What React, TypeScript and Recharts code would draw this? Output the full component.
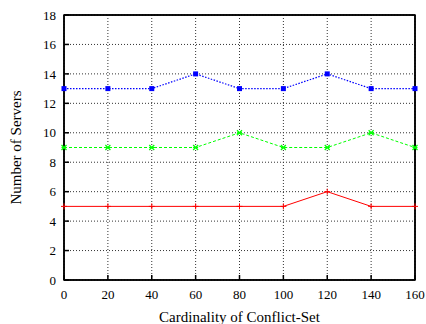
import React from 'react';
import {
  LineChart,
  Line,
  XAxis,
  YAxis,
  CartesianGrid,
  ReferenceArea,
} from 'recharts';

const cardinality = [0, 20, 40, 60, 80, 100, 120, 140, 160];
const blueSeries = [13, 13, 13, 14, 13, 13, 14, 13, 13];
const greenSeries = [9, 9, 9, 9, 10, 9, 9, 10, 9];
const redSeries = [5, 5, 5, 5, 5, 5, 6, 5, 5];
const xTicks = [0, 20, 40, 60, 80, 100, 120, 140, 160];
const yTicks = [0, 2, 4, 6, 8, 10, 12, 14, 16, 18];

const data = cardinality.map((c, i) => ({
  c,
  blue: blueSeries[i],
  green: greenSeries[i],
  red: redSeries[i],
}));

const font = 'Liberation Serif, DejaVu Serif, serif';

const SquareDot = (props: any) => {
  const { cx, cy, index } = props;
  return <rect key={`sq-${index}`} x={cx - 2.5} y={cy - 2.5} width={5} height={5} fill="#0000ff" />;
};

const CrossDot = (props: any) => {
  const { cx, cy, index } = props;
  const s = 2.5;
  return (
    <g key={`x-${index}`} stroke="#00ff00" strokeWidth={1.2}>
      <line x1={cx - s} y1={cy - s} x2={cx + s} y2={cy + s} />
      <line x1={cx - s} y1={cy + s} x2={cx + s} y2={cy - s} />
      <line x1={cx - s} y1={cy} x2={cx + s} y2={cy} />
    </g>
  );
};

const PlusDot = (props: any) => {
  const { cx, cy, index } = props;
  const s = 3;
  return (
    <g key={`p-${index}`} stroke="#ff0000" strokeWidth={1}>
      <line x1={cx - s} y1={cy} x2={cx + s} y2={cy} />
      <line x1={cx} y1={cy - s} x2={cx} y2={cy + s} />
    </g>
  );
};

export default function App() {
  return (
    <div style={{ position: 'absolute', left: 0, top: 0, background: '#fff' }}>
      <LineChart
        width={426}
        height={324}
        data={data}
        margin={{ top: 14, right: 10, bottom: 2, left: 0 }}
      >
        <CartesianGrid
          xAxisId="b"
          yAxisId="l"
          stroke="#333"
          strokeDasharray="1 2"
          horizontalValues={yTicks}
          verticalValues={xTicks}
        />
        <XAxis
          xAxisId="b"
          dataKey="c"
          type="number"
          domain={[0, 160]}
          ticks={xTicks}
          height={42}
          tickSize={-5}
          tickMargin={15}
          stroke="#000"
          strokeWidth={1.5}
          tick={{ fill: '#000', fontSize: 13, fontFamily: font }}
          label={{ value: 'Cardinality of Conflict-Set', position: 'insideBottom', offset: 0, fill: '#000', fontSize: 15, fontFamily: font }}
        />
        <XAxis
          xAxisId="t"
          orientation="top"
          dataKey="c"
          type="number"
          domain={[0, 160]}
          ticks={xTicks}
          height={1}
          tickSize={-5}
          tick={false}
          stroke="#000"
          strokeWidth={1.5}
        />
        <YAxis
          yAxisId="l"
          domain={[0, 18]}
          ticks={yTicks}
          width={64}
          tickSize={-5}
          tickMargin={13}
          stroke="#000"
          strokeWidth={1.5}
          tick={{ fill: '#000', fontSize: 13, fontFamily: font }}
          label={{ value: 'Number of Servers', angle: -90, position: 'insideLeft', offset: 16, fill: '#000', fontSize: 15, fontFamily: font, style: { textAnchor: 'middle' } }}
        />
        <YAxis
          yAxisId="r"
          orientation="right"
          domain={[0, 18]}
          ticks={yTicks}
          width={1}
          tickSize={-5}
          tick={false}
          stroke="#000"
          strokeWidth={1.5}
        />
        <ReferenceArea
          xAxisId="b"
          yAxisId="l"
          x1={0}
          x2={160}
          y1={0}
          y2={18}
          fill="none"
          fillOpacity={0}
          stroke="#000"
          strokeWidth={1.5}
        />
        <Line
          xAxisId="b"
          yAxisId="l"
          dataKey="red"
          stroke="#ff0000"
          strokeWidth={1}
          dot={PlusDot}
          isAnimationActive={false}
        />
        <Line
          xAxisId="b"
          yAxisId="l"
          dataKey="green"
          stroke="#00ff00"
          strokeWidth={1}
          strokeDasharray="3 2"
          dot={CrossDot}
          isAnimationActive={false}
        />
        <Line
          xAxisId="b"
          yAxisId="l"
          dataKey="blue"
          stroke="#0000ff"
          strokeWidth={1.2}
          strokeDasharray="1.5 1.5"
          dot={SquareDot}
          isAnimationActive={false}
        />
      </LineChart>
    </div>
  );
}
